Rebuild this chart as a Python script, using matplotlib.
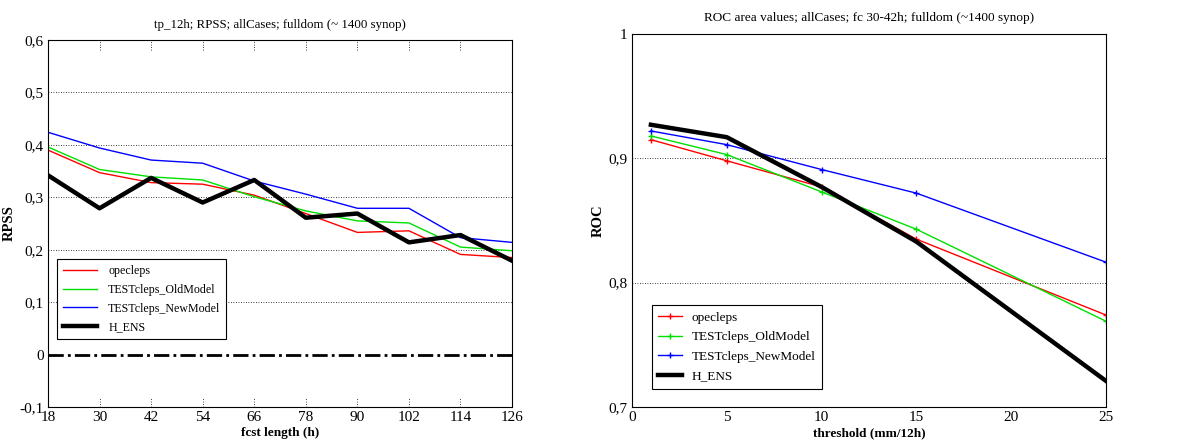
import matplotlib
matplotlib.use("Agg")
import matplotlib.pyplot as plt
from matplotlib.ticker import FuncFormatter

plt.rcParams['font.family'] = ['Liberation Serif', 'DejaVu Serif']
plt.rcParams['font.size'] = 9

# left panel: RPSS vs forecast length
fcst = [18, 30, 42, 54, 66, 78, 90, 102, 114, 126]
rpss_ope = [0.390, 0.347, 0.328, 0.325, 0.304, 0.269, 0.233, 0.236, 0.191, 0.185]
rpss_old = [0.396, 0.353, 0.339, 0.333, 0.301, 0.274, 0.255, 0.251, 0.205, 0.198]
rpss_new = [0.424, 0.394, 0.371, 0.365, 0.331, 0.306, 0.279, 0.279, 0.223, 0.214]
rpss_hens = [0.342, 0.279, 0.337, 0.290, 0.333, 0.261, 0.269, 0.214, 0.228, 0.179]

# right panel: ROC area vs threshold
thr = [1, 5, 10, 15, 25]
roc_ope = [0.915, 0.898, 0.877, 0.835, 0.774]
roc_old = [0.918, 0.903, 0.873, 0.843, 0.769]
roc_new = [0.922, 0.911, 0.891, 0.872, 0.8165]
roc_hens = [0.927, 0.917, 0.877, 0.833, 0.721]

labels = ["opecleps", "TESTcleps_OldModel", "TESTcleps_NewModel", "H_ENS"]
colors = ["#ff0000", "#00e000", "#0000ff", "black"]


def comma(v, pos):
    s = "%g" % round(v, 3)
    return s.replace(".", ",")


fig = plt.figure(figsize=(11.79, 4.43), dpi=100)

ax1 = fig.add_axes([0.0407, 0.0813, 0.3936, 0.8284])
for ys, c, lab in zip([rpss_ope, rpss_old, rpss_new, rpss_hens], colors, labels):
    lw = 3.2 if c == "black" else 1
    ax1.plot(fcst, ys, color=c, lw=lw, label=lab)
ax1.plot([fcst[0], fcst[-1]], [0, 0], color="black", lw=2, dashes=[5.5, 1.5, 1, 1.5])
ax1.set_xlim(18, 126)
ax1.set_ylim(-0.1, 0.6)
ax1.set_xticks(fcst)
ax1.set_yticks([-0.1, 0, 0.1, 0.2, 0.3, 0.4, 0.5, 0.6])
ax1.yaxis.set_major_formatter(FuncFormatter(comma))
for yv in [0.1, 0.2, 0.3, 0.4, 0.5]:
    ax1.axhline(yv, color="black", lw=0.6, ls=(0, (1, 2)), zorder=0)
for xv in fcst[1:-1]:
    ax1.axvline(xv, ymin=0, ymax=0.028, color="black", lw=0.6, ls=(0, (1, 2)), zorder=0)
    ax1.axvline(xv, ymin=0.972, ymax=1, color="black", lw=0.6, ls=(0, (1, 2)), zorder=0)
ax1.tick_params(length=0, labelsize=11, pad=3)
ax1.set_title("tp_12h; RPSS; allCases; fulldom (~ 1400 synop)", fontsize=9.3, pad=9)
ax1.set_xlabel("fcst length (h)", fontweight="bold", fontsize=9.5, labelpad=2)
ax1.set_ylabel("RPSS", fontweight="bold", fontsize=10.5, labelpad=3)
leg1 = ax1.legend(loc="lower left", bbox_to_anchor=(0.019, 0.185), borderaxespad=0,
                  fancybox=False, edgecolor="black", framealpha=1, fontsize=8.6,
                  handlelength=2.9, borderpad=0.5, labelspacing=0.55, handletextpad=0.9)
leg1.get_frame().set_linewidth(0.8)

ax2 = fig.add_axes([0.536, 0.0813, 0.402, 0.842])
for ys, c, lab in zip([roc_ope, roc_old, roc_new, roc_hens], colors, labels):
    if c == "black":
        ax2.plot(thr, ys, color=c, lw=3.2, label=lab)
    else:
        ax2.plot(thr, ys, color=c, lw=1, marker="+", ms=4, mew=1, label=lab)
ax2.set_xlim(0, 25)
ax2.set_ylim(0.7, 1.0)
ax2.set_xticks([0, 5, 10, 15, 20, 25])
ax2.set_yticks([0.7, 0.8, 0.9, 1.0])
ax2.yaxis.set_major_formatter(FuncFormatter(comma))
for yv in [0.8, 0.9]:
    ax2.axhline(yv, color="black", lw=0.6, ls=(0, (1, 2)), zorder=0)
ax2.tick_params(length=0, labelsize=11, pad=3)
ax2.set_title("ROC area values; allCases; fc 30-42h; fulldom (~1400 synop)", fontsize=9.5, pad=9)
ax2.set_xlabel("threshold (mm/12h)", fontweight="bold", fontsize=9.5, labelpad=2)
ax2.set_ylabel("ROC", fontweight="bold", fontsize=10.5, labelpad=3)
leg2 = ax2.legend(loc="lower left", bbox_to_anchor=(0.042, 0.048), borderaxespad=0,
                  fancybox=False, edgecolor="black", framealpha=1, fontsize=9.5,
                  handlelength=1.8, borderpad=0.5, labelspacing=0.55, handletextpad=0.7)
leg2.get_frame().set_linewidth(0.8)

fig.savefig("out.png", dpi=100)
